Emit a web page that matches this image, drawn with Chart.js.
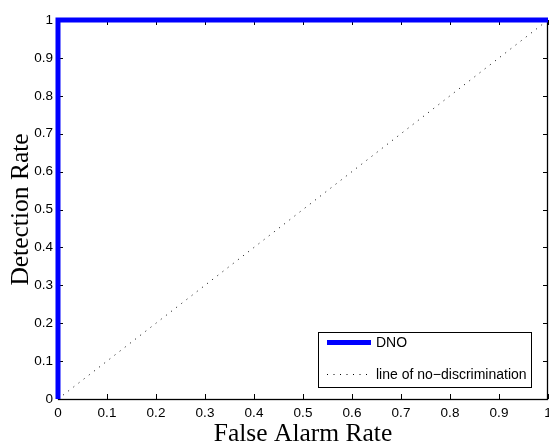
<!DOCTYPE html>
<html>
<head>
<meta charset="utf-8">
<script src="https://cdn.jsdelivr.net/npm/chart.js@4/dist/chart.umd.min.js"></script>
<style>
  html, body { margin: 0; padding: 0; background: #fff; }
  #wrap { width: 549px; height: 447px; }
</style>
</head>
<body>
<div id="wrap"><canvas id="roc" width="549" height="447"></canvas></div>
<script>
// ROC curve for the DNO detector against the chance diagonal
const rocFalseAlarm = [0, 0, 1];
const rocDetection  = [0, 1, 1];
const chanceX       = [0, 1];
const chanceY       = [0, 1];
const tickValues    = [0, 0.1, 0.2, 0.3, 0.4, 0.5, 0.6, 0.7, 0.8, 0.9, 1];
const tickLabels    = ['0', '0.1', '0.2', '0.3', '0.4', '0.5', '0.6', '0.7', '0.8', '0.9', '1'];

const BLUE = '#0000ff';
const BLACK = '#000000';
const TICK_FONT = { family: '"Liberation Sans", Arial, sans-serif', size: 13.5 };
const TITLE_FONT = { family: '"Liberation Serif", "Times New Roman", serif', size: 25.5 };

const toPoints = (xs, ys) => xs.map((x, i) => ({ x, y: ys[i] }));

// box + inward tick marks on all four sides, matlab style
const framePlugin = {
  id: 'frame',
  beforeDatasetsDraw(chart) {
    const { ctx, chartArea: a, scales } = chart;
    const len = 5;
    ctx.save();
    ctx.strokeStyle = BLACK;
    ctx.lineWidth = 1;
    ctx.beginPath();
    tickValues.forEach(v => {
      const px = Math.round(scales.x.getPixelForValue(v)) + 0.5;
      const py = Math.round(scales.y.getPixelForValue(v)) + 0.5;
      ctx.moveTo(px, a.bottom); ctx.lineTo(px, a.bottom - len);
      ctx.moveTo(px, a.top);    ctx.lineTo(px, a.top + len);
      ctx.moveTo(a.left, py);   ctx.lineTo(a.left + len, py);
      ctx.moveTo(a.right, py);  ctx.lineTo(a.right - len, py);
    });
    ctx.stroke();
    ctx.lineWidth = 1.3;
    ctx.strokeRect(a.left + 0.5, a.top + 0.5, a.right - a.left - 1, a.bottom - a.top);
    ctx.restore();
  }
};

// legend box in the lower right corner of the axes
const legendPlugin = {
  id: 'boxLegend',
  afterDatasetsDraw(chart) {
    const { ctx, chartArea: a } = chart;
    const w = 213, h = 55;
    const x0 = a.right - 230, y0 = a.bottom - 67;
    ctx.save();
    ctx.fillStyle = '#fff';
    ctx.fillRect(x0, y0, w, h);
    ctx.strokeStyle = BLACK;
    ctx.lineWidth = 1;
    ctx.strokeRect(x0 + 0.5, y0 + 0.5, w, h);
    ctx.font = '14px "Liberation Sans", Arial, sans-serif';
    ctx.textBaseline = 'middle';
    chart.data.datasets.forEach((ds, i) => {
      const yy = y0 + 10.5 + i * 32;
      ctx.beginPath();
      ctx.strokeStyle = ds.borderColor;
      ctx.lineWidth = ds.borderWidth;
      ctx.setLineDash(ds.borderDash || []);
      ctx.moveTo(x0 + 9, yy);
      ctx.lineTo(x0 + 53, yy);
      ctx.stroke();
      ctx.setLineDash([]);
      ctx.fillStyle = BLACK;
      ctx.fillText(ds.label, x0 + 58, yy + 1);
    });
    ctx.restore();
  }
};

const axisCommon = {
  type: 'linear',
  min: 0,
  max: 1,
  grid: { display: false, drawTicks: false },
  border: { display: false },
  afterBuildTicks: s => { s.ticks = tickValues.map(v => ({ value: v })); }
};

new Chart(document.getElementById('roc'), {
  type: 'scatter',
  data: {
    datasets: [
      {
        label: 'DNO',
        data: toPoints(rocFalseAlarm, rocDetection),
        showLine: true,
        borderColor: BLUE,
        borderWidth: 5,
        pointRadius: 0,
        tension: 0,
        clip: false
      },
      {
        label: 'line of no\u2212discrimination',
        data: toPoints(chanceX, chanceY),
        showLine: true,
        borderColor: BLACK,
        borderWidth: 1,
        borderDash: [1, 5.5],
        pointRadius: 0,
        clip: false
      }
    ]
  },
  options: {
    responsive: false,
    animation: false,
    events: [],
    layout: { padding: { top: 20, right: 1, left: 0, bottom: 0 } },
    plugins: {
      legend: { display: false },
      tooltip: { enabled: false }
    },
    scales: {
      x: {
        ...axisCommon,
        ticks: {
          font: TICK_FONT, color: BLACK, padding: 6, maxRotation: 0, autoSkip: false,
          callback: (v, i) => tickLabels[i]
        },
        title: { display: true, text: 'False Alarm Rate', font: TITLE_FONT, color: BLACK, padding: { top: 0, bottom: -3 } },
        afterFit: s => { s.height = 48; s.paddingLeft = 0; s.paddingRight = 0; }
      },
      y: {
        ...axisCommon,
        ticks: {
          font: TICK_FONT, color: BLACK, padding: 5,
          callback: (v, i) => tickLabels[i]
        },
        title: { display: true, text: 'Detection Rate', font: TITLE_FONT, color: BLACK, padding: { top: 6 } },
        afterFit: s => { s.width = 58; s.paddingTop = 0; s.paddingBottom = 0; }
      }
    }
  },
  plugins: [framePlugin, legendPlugin]
});
</script>
</body>
</html>
